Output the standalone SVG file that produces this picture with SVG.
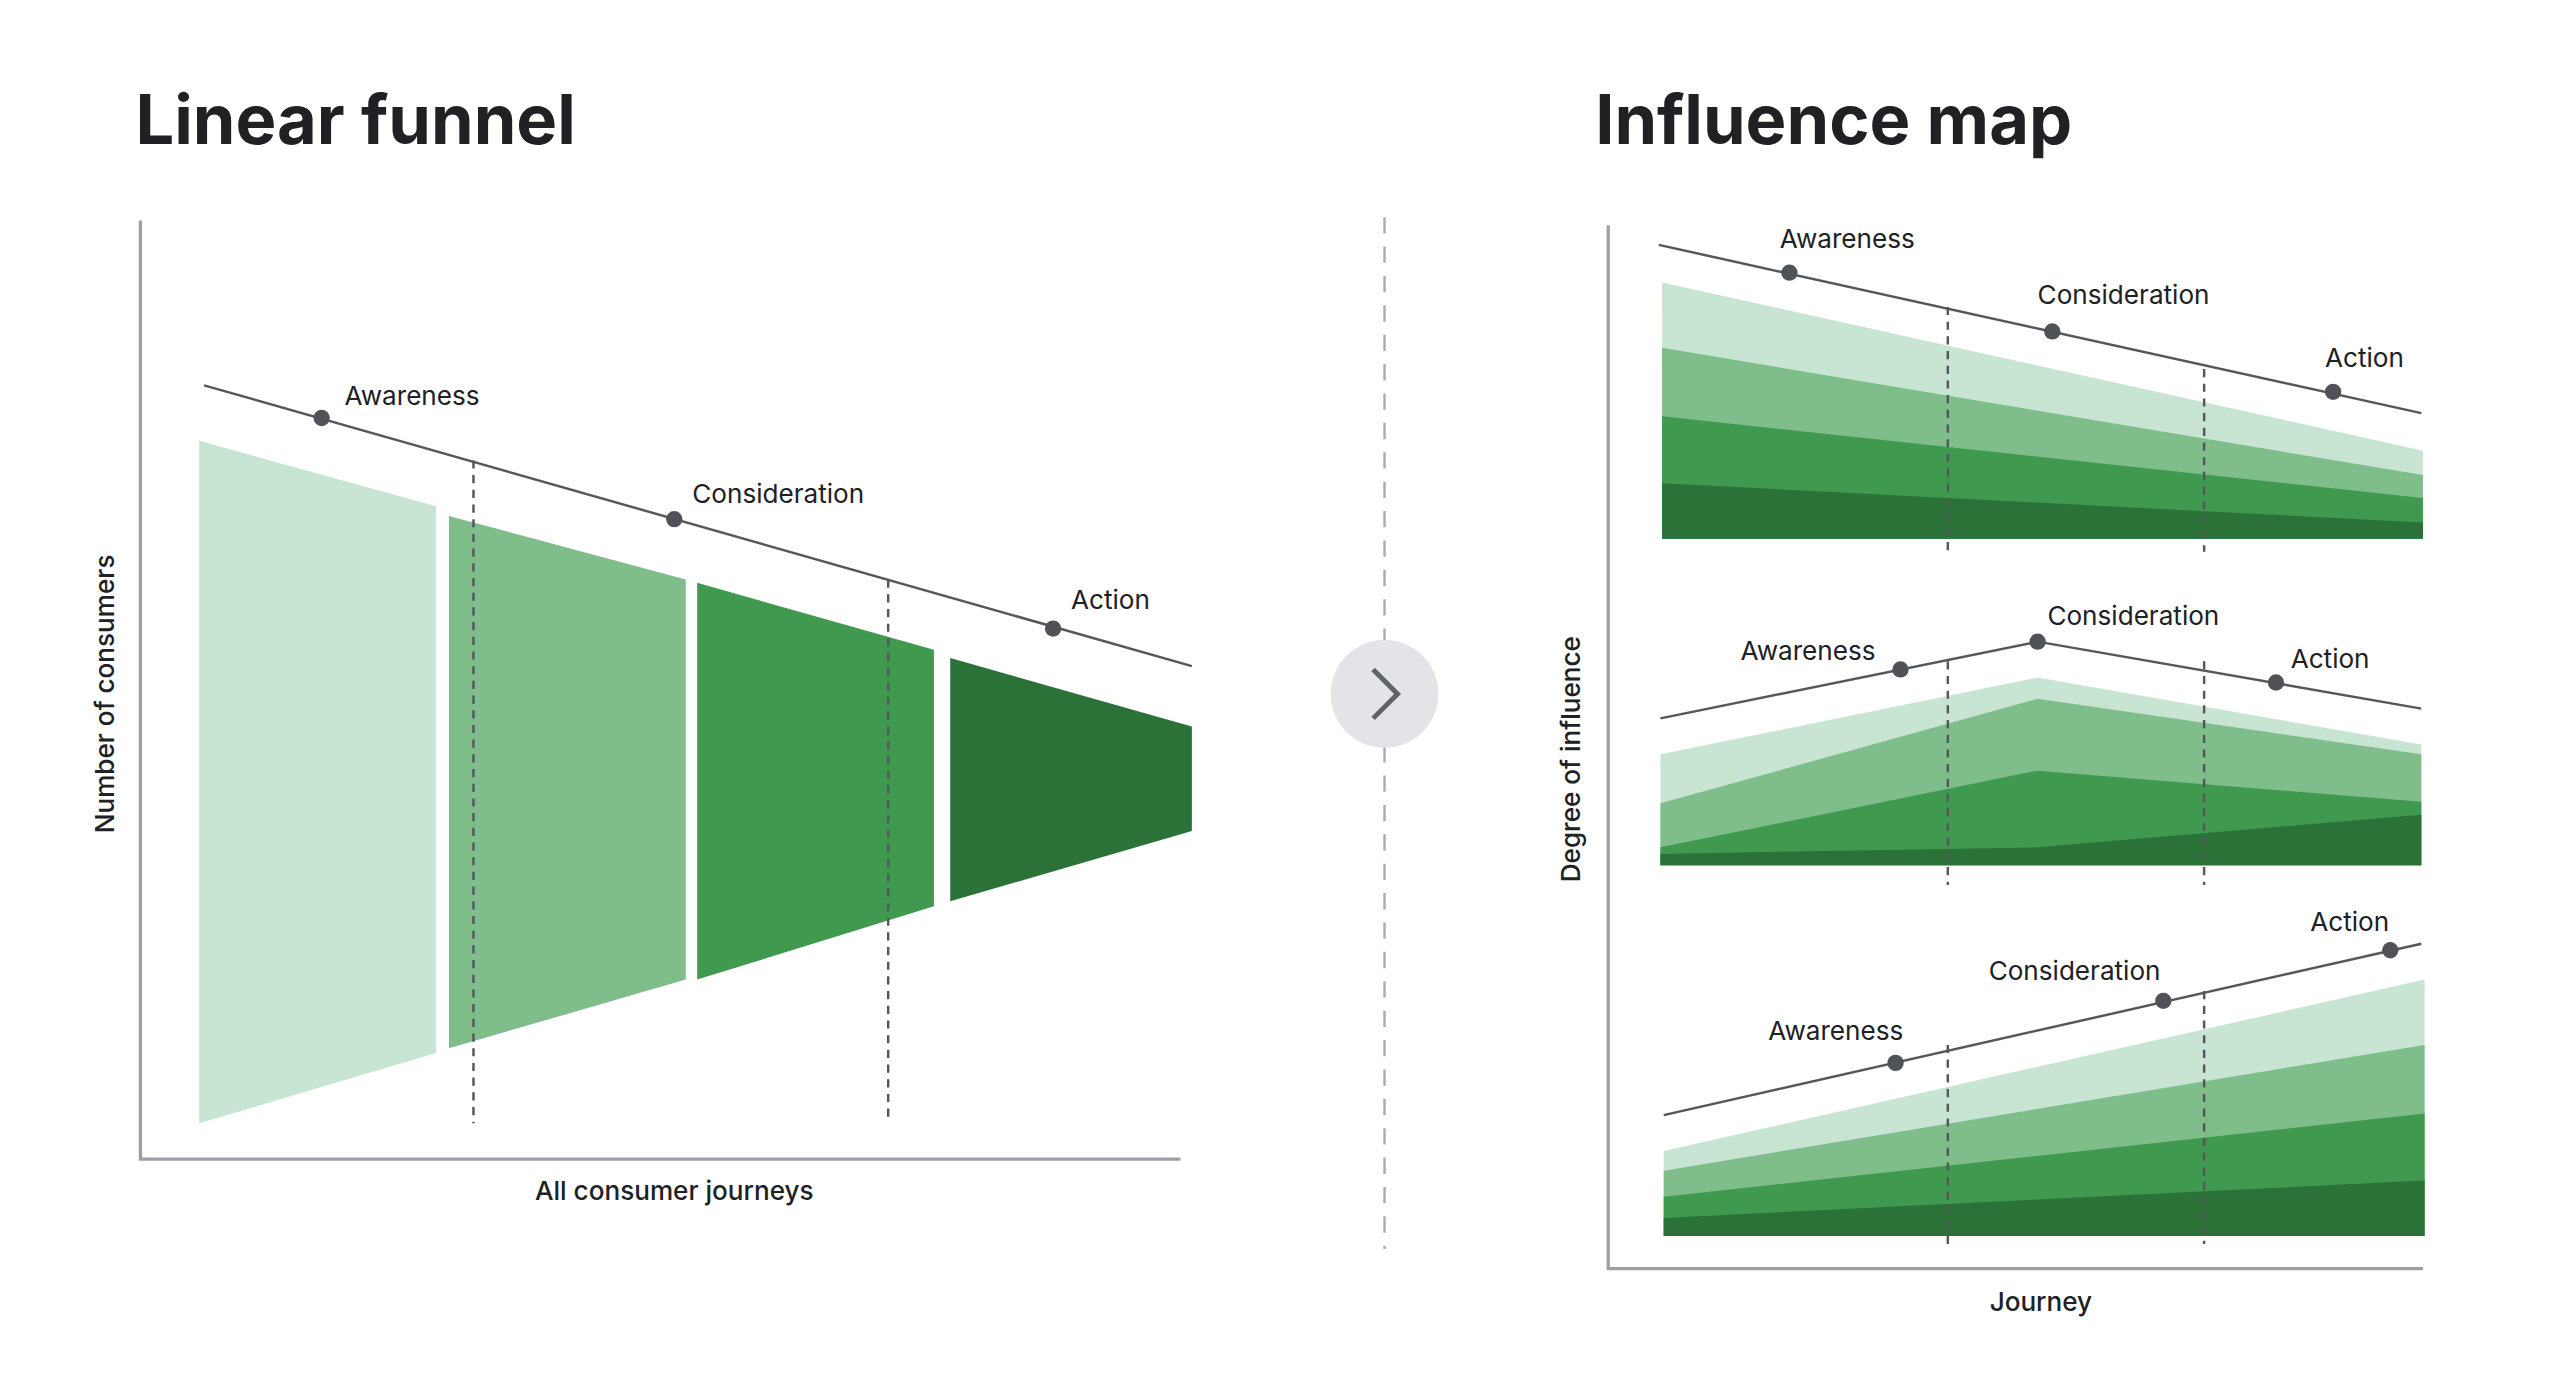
<svg xmlns="http://www.w3.org/2000/svg" width="2560" height="1391" viewBox="0 0 2560 1391">
<style>
.t{font-family:Inter,"Liberation Sans",sans-serif;font-weight:700;font-size:42px;fill:#202124}
.l{font-family:Inter,"Liberation Sans",sans-serif;font-size:16px;fill:#202124}
.a{font-family:Inter,"Liberation Sans",sans-serif;font-size:16px;font-weight:500;fill:#202124}
.ax{stroke:#9aa0a6;stroke-width:2;fill:none}
.tr{stroke:#55575b;stroke-width:1.5;fill:none}
.d{stroke:#55575b;stroke-width:1.5;stroke-dasharray:5 4}
.dot{fill:#4f5257}
.c1{fill:#c8e5d3}.c2{fill:#7fbd8b}.c3{fill:#3f9a50}.c4{fill:#2a7238}
</style>
<rect width="2560" height="1391" fill="#fff"/>
<g transform="scale(1.6327)">
<g id="left">
<text class="t" x="83" y="88">Linear funnel</text>
<path class="ax" d="M86 135V710H723"/>
<text class="a" transform="translate(70 425) rotate(-90)" text-anchor="middle">Number of consumers</text>
<text class="a" x="413" y="735" text-anchor="middle">All consumer journeys</text>
<polygon class="c1" points="122,270 267,310 267,645 122,688"/>
<polygon class="c2" points="275,316 420,355 420,600 275,642"/>
<polygon class="c3" points="427,357 572,398 572,555 427,600"/>
<polygon class="c4" points="582,403 730,445 730,509 582,552"/>
<line class="d" x1="290" y1="282" x2="290" y2="688"/>
<line class="d" x1="544" y1="355" x2="544" y2="688"/>
<line class="tr" x1="125" y1="236" x2="730" y2="408"/>
<circle class="dot" cx="197" cy="256" r="5"/><circle class="dot" cx="413" cy="318" r="5"/><circle class="dot" cx="645" cy="385" r="5"/>
<text class="l" x="211" y="248">Awareness</text>
<text class="l" x="424" y="308">Consideration</text>
<text class="l" x="656" y="373">Action</text>
</g>
<g id="separator">
<line x1="848" y1="133" x2="848" y2="765" stroke="#aaadb1" stroke-width="1.5" stroke-dasharray="10 8"/>
<circle cx="848" cy="425" r="33" fill="#e3e4e7"/>
<path d="M841 410L856 425L841 440" stroke="#5f6368" stroke-width="3" fill="none"/>
</g>
<g id="right">
<text class="t" x="977" y="88">Influence map</text>
<path class="ax" d="M985 138V777H1484"/>
<text class="a" transform="translate(968 465) rotate(-90)" text-anchor="middle">Degree of influence</text>
<text class="a" x="1250" y="803" text-anchor="middle">Journey</text>
<g id="top">
<polygon class="c1" points="1018,173 1484,276 1484,330 1018,330"/>
<polygon class="c2" points="1018,213 1484,291 1484,330 1018,330"/>
<polygon class="c3" points="1018,255 1484,305 1484,330 1018,330"/>
<polygon class="c4" points="1018,296 1484,320 1484,330 1018,330"/>
<line class="tr" x1="1016" y1="150" x2="1483" y2="253"/>
<circle class="dot" cx="1096" cy="167" r="5"/><circle class="dot" cx="1257" cy="203" r="5"/><circle class="dot" cx="1429" cy="240" r="5"/>
<text class="l" x="1090" y="152">Awareness</text>
<text class="l" x="1248" y="186">Consideration</text>
<text class="l" x="1424" y="225">Action</text>
</g>
<g id="middle">
<polygon class="c1" points="1017,462 1248,415 1483,456 1483,530 1017,530"/>
<polygon class="c2" points="1017,492 1248,428 1483,462 1483,530 1017,530"/>
<polygon class="c3" points="1017,519 1248,472 1483,491 1483,530 1017,530"/>
<polygon class="c4" points="1017,523 1248,519 1483,499 1483,530 1017,530"/>
<polyline class="tr" points="1017,440 1248,393 1483,434"/>
<circle class="dot" cx="1164" cy="410" r="5"/><circle class="dot" cx="1248" cy="393" r="5"/><circle class="dot" cx="1394" cy="418" r="5"/>
<text class="l" x="1066" y="404">Awareness</text>
<text class="l" x="1254" y="383">Consideration</text>
<text class="l" x="1403" y="409">Action</text>
</g>
<g id="bottom">
<polygon class="c1" points="1019,705 1485,600 1485,757 1019,757"/>
<polygon class="c2" points="1019,717 1485,640 1485,757 1019,757"/>
<polygon class="c3" points="1019,733 1485,682 1485,757 1019,757"/>
<polygon class="c4" points="1019,746 1485,723 1485,757 1019,757"/>
<line class="tr" x1="1019" y1="683" x2="1483" y2="578"/>
<circle class="dot" cx="1161" cy="651" r="5"/><circle class="dot" cx="1325" cy="613" r="5"/><circle class="dot" cx="1464" cy="582" r="5"/>
<text class="l" x="1083" y="637">Awareness</text>
<text class="l" x="1218" y="600" fill="#55575b">Consideration</text>
<text class="l" x="1415" y="570">Action</text>
</g>
<g id="connectors">
<line class="d" x1="1193" y1="188" x2="1193" y2="338"/>
<line class="d" x1="1350" y1="226" x2="1350" y2="338"/>
<line class="d" x1="1193" y1="405" x2="1193" y2="542"/>
<line class="d" x1="1350" y1="405" x2="1350" y2="542"/>
<line class="d" x1="1193" y1="640" x2="1193" y2="762"/>
<line class="d" x1="1350" y1="607" x2="1350" y2="762"/>
</g>
</g>
</g>
</svg>
